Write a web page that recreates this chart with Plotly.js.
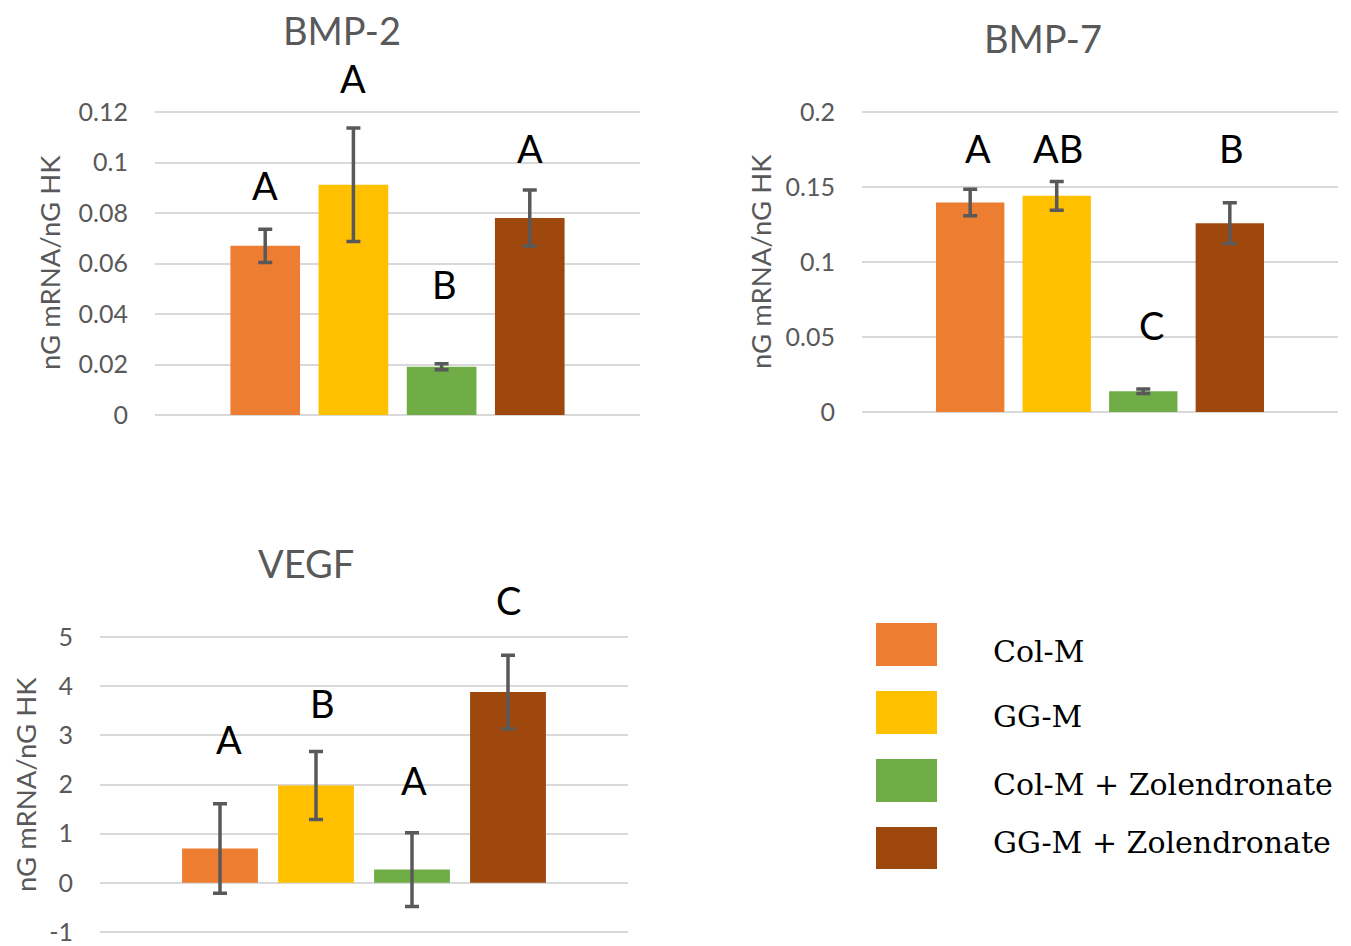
<!DOCTYPE html>
<html>
<head>
<meta charset="utf-8">
<script src="https://cdn.plot.ly/plotly-3.0.1.min.js"></script>
<style>html,body{margin:0;padding:0;background:#fff;}#chart{width:1351px;height:946px;}</style>
</head>
<body>
<div id="chart"></div>
<script>
// ---- data ----
const groups = ["Col-M", "GG-M", "Col-M + Zolendronate", "GG-M + Zolendronate"];
const groupColors = ["#ED7D31", "#FFC000", "#70AD47", "#9E480E"];

const bmp2Values = [0.067, 0.0912, 0.0191, 0.078];
const bmp2Errors = [0.0066, 0.0225, 0.0012, 0.0111];
const bmp2Letters = ["A", "A", "B", "A"];
const bmp2TickVals = [0, 0.02, 0.04, 0.06, 0.08, 0.1, 0.12];
const bmp2TickText = ["0", "0.02", "0.04", "0.06", "0.08", "0.1", "0.12"];

const bmp7Values = [0.1397, 0.1441, 0.0138, 0.1259];
const bmp7Errors = [0.0088, 0.0096, 0.0015, 0.0136];
const bmp7Letters = ["A", "AB", "C", "B"];
const bmp7TickVals = [0, 0.05, 0.1, 0.15, 0.2];
const bmp7TickText = ["0", "0.05", "0.1", "0.15", "0.2"];

const vegfValues = [0.70, 1.98, 0.27, 3.88];
const vegfErrors = [0.91, 0.69, 0.75, 0.75];
const vegfLetters = ["A", "B", "A", "C"];
const vegfTickVals = [-1, 0, 1, 2, 3, 4, 5];
const vegfTickText = ["-1", "0", "1", "2", "3", "4", "5"];

const yTitle = "nG mRNA/nG HK";

// ---- layout helpers ----
const W = 1351, H = 946;
const px = v => v / W;
const py = v => 1 - v / H;
const gray = "#595959";
const sans = "Lato, 'Open Sans', sans-serif";

function barTrace(values, errors, xa, ya) {
  return {
    type: "bar",
    x: [0, 1, 2, 3],
    y: values,
    xaxis: xa, yaxis: ya,
    marker: {color: groupColors, line: {width: 0}},
    error_y: {type: "data", array: errors, visible: true, color: gray, thickness: 3.5, width: 7},
    hovertext: groups,
    showlegend: false
  };
}

const data = [
  barTrace(bmp2Values, bmp2Errors, "x", "y"),
  barTrace(bmp7Values, bmp7Errors, "x2", "y2"),
  barTrace(vegfValues, vegfErrors, "x3", "y3")
];

function xAxis(domain, anchor) {
  return {domain: domain, anchor: anchor, range: [-1.25, 4.25], showgrid: false, zeroline: false,
          showticklabels: false, showline: false, ticks: "", fixedrange: true};
}
// pixel positions of the lowest and highest tick give the domain; a few pixels of padding keep
// the edge gridlines inside the plot area
function yAxis(bottomPx, topPx, anchor, range, vals, text) {
  const padPx = 4;
  const perPx = (range[1] - range[0]) / (bottomPx - topPx);
  return {domain: [py(bottomPx + padPx), py(topPx - padPx)], anchor: anchor,
          range: [range[0] - padPx * perPx, range[1] + padPx * perPx],
          tickmode: "array", tickvals: vals, ticktext: text,
          showgrid: true, gridcolor: "#d9d9d9", gridwidth: 2, zeroline: false,
          showline: false, ticks: "", ticklabelstandoff: 26, ticklabeloverflow: "allow",
          tickfont: {family: sans, size: 25, color: gray}, fixedrange: true};
}

const annotations = [];
function addTitle(text, cx, cy) {
  annotations.push({text: text, xref: "paper", yref: "paper", x: px(cx), y: py(cy),
    xanchor: "center", yanchor: "middle", showarrow: false,
    font: {family: sans, size: 38, color: gray}});
}
function addYTitle(cx, cy) {
  annotations.push({text: yTitle, xref: "paper", yref: "paper", x: px(cx), y: py(cy),
    xanchor: "center", yanchor: "middle", textangle: -90, showarrow: false,
    font: {family: sans, size: 27.5, color: gray}});
}
function addLetters(letters, pos) {
  letters.forEach((t, i) => annotations.push({text: t, xref: "paper", yref: "paper",
    x: px(pos[i][0]), y: py(pos[i][1]),
    xanchor: "center", yanchor: "middle", showarrow: false,
    font: {family: sans, size: 38, color: "#000"}}));
}

addTitle("BMP-2", 342, 30);
addTitle("BMP-7", 1043, 38);
addTitle("VEGF", 306, 563);
addYTitle(50, 263);
addYTitle(760, 262);
addYTitle(25, 785);
addLetters(bmp2Letters, [[265, 185], [353, 78], [444, 284], [530, 148]]);
addLetters(bmp7Letters, [[978, 148], [1058, 148], [1151, 325], [1231, 148]]);
addLetters(vegfLetters, [[229, 739], [322, 703], [414, 780], [508, 600]]);

// ---- legend (drawn manually) ----
const shapes = [];
const legendBoxes = [[623, 666], [691, 734], [759, 802], [827, 869]];
const legendTextY = [651, 716, 784, 842];
groups.forEach((g, i) => {
  shapes.push({type: "rect", xref: "paper", yref: "paper",
    x0: px(876), x1: px(937), y0: py(legendBoxes[i][1]), y1: py(legendBoxes[i][0]),
    fillcolor: groupColors[i], line: {width: 0}});
  annotations.push({text: g, xref: "paper", yref: "paper", x: px(991), y: py(legendTextY[i]),
    xanchor: "left", yanchor: "middle", showarrow: false,
    font: {family: "'DejaVu Serif', serif", size: 30, color: "#000"}});
});

const layout = {
  width: W, height: H,
  margin: {l: 0, r: 0, t: 0, b: 0},
  paper_bgcolor: "#fff", plot_bgcolor: "rgba(0,0,0,0)",
  bargap: 0.21,
  showlegend: false,
  xaxis: xAxis([px(155), px(640)], "y"),
  yaxis: yAxis(415, 112, "x", [0, 0.12], bmp2TickVals, bmp2TickText),
  xaxis2: xAxis([px(862), px(1338)], "y2"),
  yaxis2: yAxis(412, 112, "x2", [0, 0.2], bmp7TickVals, bmp7TickText),
  xaxis3: xAxis([px(100), px(628)], "y3"),
  yaxis3: yAxis(932, 637, "x3", [-1, 5], vegfTickVals, vegfTickText),
  annotations: annotations,
  shapes: shapes
};

Plotly.newPlot("chart", data, layout, {displayModeBar: false, staticPlot: true});
</script>
</body>
</html>
